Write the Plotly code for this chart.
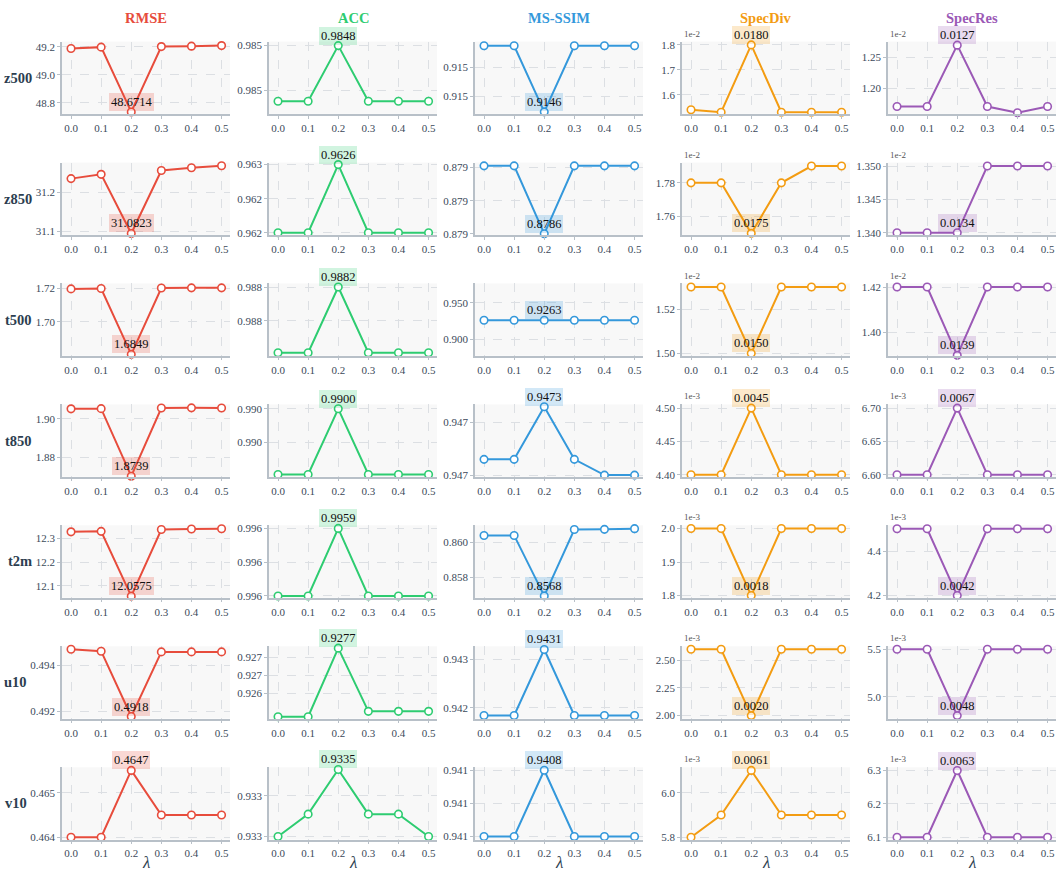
import plotly.graph_objects as go

# ---------------- data ----------------
LAMBDAS = [0.0, 0.1, 0.2, 0.3, 0.4, 0.5]
VARIABLES = ["z500", "z850", "t500", "t850", "t2m", "u10", "v10"]
METRICS = ["RMSE", "ACC", "MS-SSIM", "SpecDiv", "SpecRes"]

RMSE = {
    "z500": [49.188, 49.198, 48.736, 49.202, 49.205, 49.209],
    "z850": [31.235, 31.246, 31.094, 31.256, 31.263, 31.268],
    "t500": [1.7195, 1.7197, 1.6806, 1.7200, 1.7201, 1.7201],
    "t850": [1.9051, 1.9052, 1.8702, 1.9055, 1.9056, 1.9055],
    "t2m":  [12.328, 12.330, 12.0556, 12.338, 12.340, 12.341],
    "u10":  [0.49468, 0.49460, 0.49179, 0.49457, 0.49457, 0.49457],
    "v10":  [0.4640, 0.4640, 0.4655, 0.4645, 0.4645, 0.4645],
}
ACC = {
    "z500": [0.98455, 0.98455, 0.98480, 0.98455, 0.98455, 0.98455],
    "z850": [0.96220, 0.96220, 0.96260, 0.96220, 0.96220, 0.96220],
    "t500": [0.98781, 0.98781, 0.98820, 0.98781, 0.98781, 0.98781],
    "t850": [0.98961, 0.98961, 0.99000, 0.98961, 0.98961, 0.98961],
    "t2m":  [0.99570, 0.99570, 0.99590, 0.99570, 0.99570, 0.99570],
    "u10":  [0.92585, 0.92585, 0.92775, 0.92600, 0.92600, 0.92600],
    "v10":  [0.93300, 0.93311, 0.93333, 0.93311, 0.93311, 0.93300],
}
MSSSIM = {
    "z500": [0.91535, 0.91535, 0.91489, 0.91535, 0.91535, 0.91535],
    "z850": [0.87921, 0.87921, 0.87880, 0.87921, 0.87921, 0.87921],
    "t500": [0.9263, 0.9263, 0.9263, 0.9263, 0.9263, 0.9263],
    "t850": [0.94706, 0.94706, 0.94726, 0.94706, 0.94700, 0.94700],
    "t2m":  [0.86040, 0.86040, 0.85691, 0.86074, 0.86075, 0.86079],
    "u10":  [0.94184, 0.94184, 0.94320, 0.94184, 0.94184, 0.94184],
    "v10":  [0.94060, 0.94060, 0.94080, 0.94060, 0.94060, 0.94060],
}
SPECDIV = {
    "z500": [0.0154, 0.0153, 0.0180, 0.0153, 0.0153, 0.0153],
    "z850": [0.0178, 0.0178, 0.0175, 0.0178, 0.0179, 0.0179],
    "t500": [0.0153, 0.0153, 0.0150, 0.0153, 0.0153, 0.0153],
    "t850": [0.0044, 0.0044, 0.0045, 0.0044, 0.0044, 0.0044],
    "t2m":  [0.0020, 0.0020, 0.0018, 0.0020, 0.0020, 0.0020],
    "u10":  [0.0026, 0.0026, 0.0020, 0.0026, 0.0026, 0.0026],
    "v10":  [0.0058, 0.0059, 0.0061, 0.0059, 0.0059, 0.0059],
}
SPECRES = {
    "z500": [0.0117, 0.0117, 0.0127, 0.0117, 0.0116, 0.0117],
    "z850": [0.0134, 0.0134, 0.0134, 0.0135, 0.0135, 0.0135],
    "t500": [0.0142, 0.0142, 0.0139, 0.0142, 0.0142, 0.0142],
    "t850": [0.0066, 0.0066, 0.0067, 0.0066, 0.0066, 0.0066],
    "t2m":  [0.0045, 0.0045, 0.0042, 0.0045, 0.0045, 0.0045],
    "u10":  [0.0055, 0.0055, 0.0048, 0.0055, 0.0055, 0.0055],
    "v10":  [0.0061, 0.0061, 0.0063, 0.0061, 0.0061, 0.0061],
}

# best-value labels shown at lambda = 0.2
LABELS = {
    "RMSE":    ["48.6714", "31.0823", "1.6849", "1.8739", "12.0575", "0.4918", "0.4647"],
    "ACC":     ["0.9848", "0.9626", "0.9882", "0.9900", "0.9959", "0.9277", "0.9335"],
    "MS-SSIM": ["0.9146", "0.8786", "0.9263", "0.9473", "0.8568", "0.9431", "0.9408"],
    "SpecDiv": ["0.0180", "0.0175", "0.0150", "0.0045", "0.0018", "0.0020", "0.0061"],
    "SpecRes": ["0.0127", "0.0134", "0.0139", "0.0067", "0.0042", "0.0048", "0.0063"],
}

# exponent of the offset text for the spectral metrics (per variable)
SPEC_EXP = {"z500": -2, "z850": -2, "t500": -2, "t850": -3, "t2m": -3, "u10": -3, "v10": -3}

# y tick values (in displayed units) and decimals of tick labels
TICKS = {
    "RMSE": {"z500": [48.8, 49.0, 49.2], "z850": [31.1, 31.2], "t500": [1.70, 1.72],
             "t850": [1.88, 1.90], "t2m": [12.1, 12.2, 12.3], "u10": [0.492, 0.494],
             "v10": [0.464, 0.465]},
    "ACC": {"z500": [0.9846, 0.9848], "z850": [0.9622, 0.9624, 0.9626], "t500": [0.9880, 0.9882],
            "t850": [0.9898, 0.9900], "t2m": [0.9957, 0.9958, 0.9959],
            "u10": [0.9265, 0.9270, 0.9275], "v10": [0.9330, 0.9332]},
    "MS-SSIM": {"z500": [0.9150, 0.9152], "z850": [0.8788, 0.8790, 0.8792], "t500": [0.90, 0.95],
                "t850": [0.9470, 0.9472], "t2m": [0.858, 0.860], "u10": [0.942, 0.943],
                "v10": [0.9406, 0.9407, 0.9408]},
    "SpecDiv": {"z500": [1.6, 1.7, 1.8], "z850": [1.76, 1.78], "t500": [1.50, 1.52],
                "t850": [4.40, 4.45, 4.50], "t2m": [1.8, 1.9, 2.0], "u10": [2.00, 2.25, 2.50],
                "v10": [5.8, 6.0]},
    "SpecRes": {"z500": [1.20, 1.25], "z850": [1.340, 1.345, 1.350], "t500": [1.40, 1.42],
                "t850": [6.60, 6.65, 6.70], "t2m": [4.2, 4.4], "u10": [5.0, 5.5],
                "v10": [6.1, 6.2, 6.3]},
}
DECIMALS = {
    "RMSE": [1, 1, 2, 2, 1, 3, 3],
    "ACC": [3] * 7,
    "MS-SSIM": [3] * 7,
    "SpecDiv": [1, 2, 2, 2, 1, 2, 1],
    "SpecRes": [2, 3, 2, 2, 1, 1, 1],
}
# y axis limits (displayed units)
YLIM = {
    "RMSE": [(48.7224, 49.2374), (31.0906, 31.2763), (1.67978, 1.7227), (1.86994, 1.90738),
             (12.04926, 12.35535), (0.491702, 0.494809), (0.463949, 0.465571)],
    "ACC": [(0.984493, 0.984818), (0.962188, 0.962612), (0.987792, 0.988221),
            (0.989597, 0.990026), (0.995695, 0.995909), (0.92580, 0.92780),
            (0.932985, 0.933341)],
    "MS-SSIM": [(0.914876, 0.915379), (0.878794, 0.87923), (0.87785, 0.97649),
                (0.946994, 0.947269), (0.85681, 0.86098), (0.941776, 0.943265),
                (0.940591, 0.940809)],
    "SpecDiv": [(1.5234, 1.8131), (1.74913, 1.79206), (1.49893, 1.53161), (4.39716, 4.50549),
                (1.79381, 2.00945), (1.97313, 2.62687), (5.7898, 6.1142)],
    "SpecRes": [(1.1581, 1.2758), (1.33970, 1.35052), (1.38982, 1.42157), (6.59716, 6.70549),
                (4.1907, 4.5151), (4.76866, 5.53134), (6.0932, 6.30979)],
}

VALUES = {"RMSE": RMSE, "ACC": ACC, "MS-SSIM": MSSSIM, "SpecDiv": SPECDIV, "SpecRes": SPECRES}

# ---------------- style / layout ----------------
FIG_W, FIG_H = 1060, 874
COL_LEFT = [62, 269, 475, 682, 888]
COL_W = 168
ROW_TOP0, ROW_PITCH, ROW_H = 38, 122.2, 73
COLORS = {"RMSE": "#e74c3c", "ACC": "#2ecc71", "MS-SSIM": "#3498db",
          "SpecDiv": "#f39c12", "SpecRes": "#9b59b6"}
FONT = "Liberation Serif, Times New Roman, serif"
TICK_SIZE = 11
TICK_COLOR = "#3b4a5a"
AXIS_COLOR = "#b8c0c8"
GRID_COLOR = "#dcdfe3"
TEXT_DARK = "#2c3e50"


def rgba(h, a):
    h = h.lstrip("#")
    r, g, b = int(h[0:2], 16), int(h[2:4], 16), int(h[4:6], 16)
    return f"rgba({r},{g},{b},{a})"


def px_x(x):
    return x / FIG_W


def px_y(y):
    return 1 - y / FIG_H


def text_w(s, size):
    w = 0
    for ch in s:
        w += 0.25 if ch == "." else 0.5
    return w * size


fig = go.Figure()
layout = {}
annotations = []

for ri, var in enumerate(VARIABLES):
    top = ROW_TOP0 + ri * ROW_PITCH
    for ci, metric in enumerate(METRICS):
        idx = ri * len(METRICS) + ci + 1
        xname = "x" if idx == 1 else f"x{idx}"
        yname = "y" if idx == 1 else f"y{idx}"
        color = COLORS[metric]
        scale = 1.0
        if metric in ("SpecDiv", "SpecRes"):
            scale = 10 ** (-SPEC_EXP[var])
        yvals = [v * scale for v in VALUES[metric][var]]

        fig.add_trace(go.Scatter(
            x=LAMBDAS, y=yvals, xaxis=xname, yaxis=yname,
            mode="lines+markers",
            line=dict(color=color, width=2),
            marker=dict(size=7.5, color="white", line=dict(color=color, width=1.6)),
            cliponaxis=False, showlegend=False, hoverinfo="skip",
        ))

        left = COL_LEFT[ci]
        xdom = [px_x(left), px_x(left + COL_W)]
        ydom = [px_y(top + ROW_H), px_y(top)]
        layout["xaxis" if idx == 1 else f"xaxis{idx}"] = dict(
            domain=xdom, anchor=yname, range=[-0.03, 0.528],
            tickvals=LAMBDAS, ticktext=[f"{v:.1f}" for v in LAMBDAS],
            showgrid=True, gridcolor=GRID_COLOR, griddash="dash", gridwidth=0.8,
            showline=True, linecolor=AXIS_COLOR, linewidth=1.5,
            ticks="outside", ticklen=3, tickcolor=AXIS_COLOR, tickwidth=1,
            zeroline=False, tickfont=dict(family=FONT, size=TICK_SIZE, color=TICK_COLOR),
            fixedrange=True,
        )
        dec = DECIMALS[metric][ri]
        tv = TICKS[metric][var]
        layout["yaxis" if idx == 1 else f"yaxis{idx}"] = dict(
            domain=ydom, anchor=xname, range=list(YLIM[metric][ri]),
            tickvals=tv, ticktext=[f"{v:.{dec}f}" for v in tv],
            showgrid=True, gridcolor=GRID_COLOR, griddash="dash", gridwidth=0.8,
            showline=True, linecolor=AXIS_COLOR, linewidth=1.5,
            ticks="outside", ticklen=3, tickcolor=AXIS_COLOR, tickwidth=1,
            zeroline=False, tickfont=dict(family=FONT, size=TICK_SIZE, color=TICK_COLOR),
            fixedrange=True,
        )

        # best value label at lambda=0.2
        annotations.append(dict(
            x=LAMBDAS[2], y=yvals[2], xref=xname, yref=yname,
            text=LABELS[metric][ri], showarrow=False, yshift=10,
            font=dict(family=FONT, size=12.5, color="#111111"),
            bgcolor=rgba(color, 0.22), borderpad=2, borderwidth=0,
        ))

        # offset text for spectral metrics
        if metric in ("SpecDiv", "SpecRes"):
            annotations.append(dict(
                x=px_x(left), y=px_y(top - 1), xref="paper", yref="paper",
                xanchor="left", yanchor="bottom", showarrow=False,
                text=f"1e{SPEC_EXP[var]}",
                font=dict(family=FONT, size=9, color="#555555"),
            ))

        # lambda label on bottom row
        if ri == len(VARIABLES) - 1:
            annotations.append(dict(
                x=px_x(left + COL_W / 2), y=px_y(867), xref="paper", yref="paper",
                xanchor="center", yanchor="middle", showarrow=False,
                text="<i>λ</i>", font=dict(family=FONT, size=17, color=TEXT_DARK),
            ))

    # row label, placed left of the widest tick label of the first column
    dec = DECIMALS["RMSE"][ri]
    widest = max(text_w(f"{v:.{dec}f}", TICK_SIZE) for v in TICKS["RMSE"][var])
    xr = COL_LEFT[0] - 6 - widest - 2.5
    annotations.append(dict(
        x=px_x(xr), y=px_y(top + ROW_H / 2), xref="paper", yref="paper",
        xanchor="right", yanchor="middle", showarrow=False,
        text=f"<b>{var}</b>", font=dict(family=FONT, size=14.5, color=TEXT_DARK),
    ))

# column titles
for ci, metric in enumerate(METRICS):
    annotations.append(dict(
        x=px_x(COL_LEFT[ci] + COL_W / 2), y=px_y(14), xref="paper", yref="paper",
        xanchor="center", yanchor="middle", showarrow=False,
        text=f"<b>{metric}</b>", font=dict(family=FONT, size=14.5, color=COLORS[metric]),
    ))

fig.update_layout(
    width=FIG_W, height=FIG_H, autosize=False,
    margin=dict(l=0, r=0, t=0, b=0, pad=0),
    paper_bgcolor="white", plot_bgcolor="#f8f8f8",
    annotations=annotations, showlegend=False,
    font=dict(family=FONT, color=TICK_COLOR),
    **layout,
)

fig.write_html(
    "out.html",
    config={"displayModeBar": False},
    post_script="document.body.style.margin='0';document.body.style.padding='0';"
                "document.body.style.overflow='hidden';"
                "document.documentElement.style.overflow='hidden';",
)
